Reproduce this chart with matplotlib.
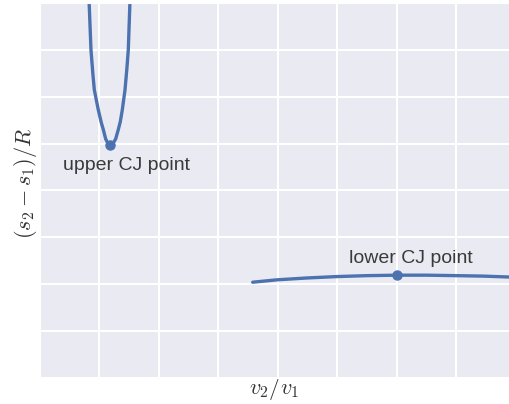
import numpy as np
import matplotlib
matplotlib.use("Agg")
import matplotlib.pyplot as plt
import seaborn as sns

# curves (v2/v1, (s2-s1)/R), axis units = grid steps
upper_v = [0.824, 0.857, 0.89, 0.913, 0.98, 1.03, 1.064, 1.104, 1.14, 1.185,
           1.23, 1.272, 1.316, 1.35, 1.383, 1.429, 1.46, 1.484, 1.513]
upper_s = [8.07, 7.00, 6.47, 6.15, 5.72, 5.45, 5.30, 5.10, 5.01, 4.98,
           5.01, 5.10, 5.30, 5.47, 5.72, 6.15, 6.60, 7.00, 8.07]
lower_v = [3.575, 3.978, 4.482, 4.986, 5.49, 5.995, 6.499, 7.003, 7.451, 7.90, 8.2]
lower_s = [2.04, 2.09, 2.13, 2.16, 2.18, 2.19, 2.19, 2.18, 2.17, 2.15, 2.13]

upper_cj = (1.185, 4.98)
lower_cj = (5.995, 2.19)

sns.set_style("darkgrid")
plt.rcParams["mathtext.fontset"] = "cm"
plt.rcParams["font.family"] = ["Liberation Sans", "DejaVu Sans"]

fig = plt.figure(figsize=(5.1, 4.04), dpi=100)
ax = fig.add_axes([40 / 510, 26.3 / 404, 1 - 40 / 510, 374.5 / 404])

blue = "#4C72B0"
ax.plot(upper_v, upper_s, color=blue, lw=2.4)
ax.plot(lower_v, lower_s, color=blue, lw=2.4)
ax.plot(*upper_cj, "o", color=blue, ms=6.5)
ax.plot(*lower_cj, "o", color=blue, ms=6.5)

ax.text(0.387, 4.54, "upper CJ point", fontsize=14, color="#3a3a3a", ha="left", va="center")
ax.text(5.19, 2.54, "lower CJ point", fontsize=14, color="#3a3a3a", ha="left", va="center")

ax.set_xlim(0, 7.9)
ax.set_ylim(0, 8)
ax.set_xticks(range(0, 8))
ax.set_yticks(range(0, 9))
ax.set_xticklabels([])
ax.set_yticklabels([])
ax.tick_params(length=2, width=1, color="#999999")
ax.grid(color="white", lw=1.5)

ax.set_xlabel("$v_2/v_1$", fontsize=16, color="#333333")
ax.set_ylabel("$(s_2 - s_1)/R$", fontsize=16, color="#333333")
ax.xaxis.set_label_coords((274.5 - 40) / 470, -0.03, transform=ax.transAxes)
ax.yaxis.set_label_coords(-14 / 470, (377.7 - 183) / 374.5)
ax.xaxis.label.set_va("center")
ax.yaxis.label.set_va("center")

fig.savefig("out.png", dpi=100)
